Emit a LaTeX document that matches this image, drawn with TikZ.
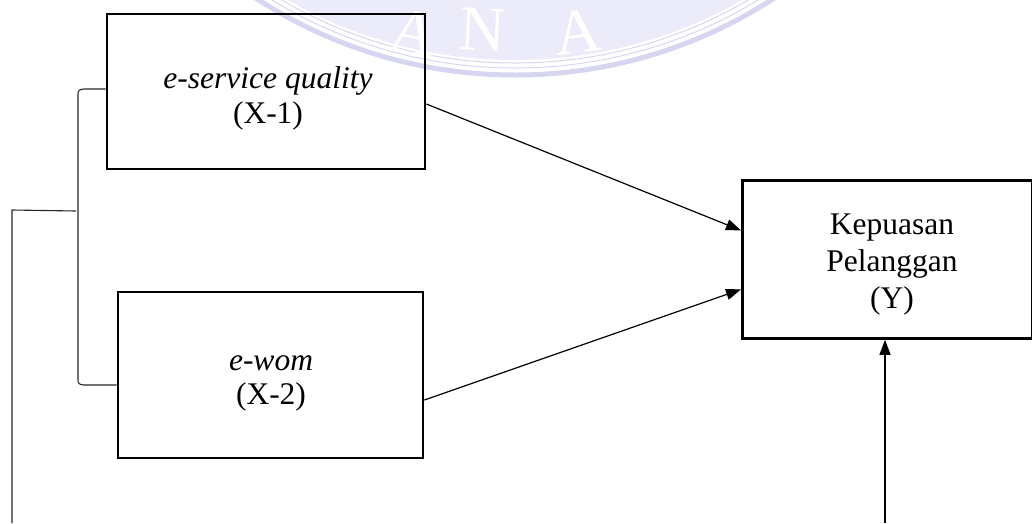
\documentclass[tikz,border=0pt]{standalone}
\usepackage{fontspec}
\setmainfont{Liberation Serif}
\usetikzlibrary{arrows.meta}
\definecolor{wmfill}{HTML}{EBEBF9}
\definecolor{wmline}{HTML}{D6D6F1}
\definecolor{wmletter}{HTML}{FFFFFF}
\tikzset{
  varbox/.style={draw=black, line width=2.8pt, rectangle, inner sep=0pt},
  txt/.style={anchor=base, inner sep=0pt, font=\fontsize{31.5}{37}\selectfont},
  conn/.style={draw=black, line width=1.2pt, -{Triangle[length=15pt,width=11pt]}},
  brk/.style={draw=black!85, line width=1.1pt},
  wmtxt/.style={anchor=base, inner sep=0pt, text=wmletter, font=\fontsize{64}{64}\selectfont}
}
\begin{document}
\begin{tikzpicture}[x=1pt,y=-1pt]
\useasboundingbox (0,0) rectangle (1032,523);
\clip (0,0) rectangle (1032,523);
% watermark
\fill[wmfill] (515,-400) circle[radius=460];
\draw[wmline, line width=1pt] (515,-400) circle[radius=463];
\draw[wmline, line width=1pt] (515,-400) circle[radius=468];
\draw[wmline, line width=5pt] (515,-400) circle[radius=475];
\node[wmtxt, rotate=-12] (wa) at (410,53) {A};
\node[wmtxt, rotate=-3] (wn) at (482,51) {N};
\node[wmtxt, rotate=7] (wb) at (580,53) {A};
% boxes
\node[varbox, minimum width=318pt, minimum height=155pt] (x1) at (266,91.5) {};
\node[varbox, minimum width=305pt, minimum height=166pt] (x2) at (270.5,375) {};
\node[varbox, minimum width=290pt, minimum height=158pt, anchor=north west] (y) at (741,179) {};
% texts
\node[txt] (x1a) at (268,88) {\textit{e-service quality}};
\node[txt] (x1b) at (268,123) {(X-1)};
\node[txt] (x2a) at (271,370) {\textit{e-wom}};
\node[txt] (x2b) at (271,404) {(X-2)};
\node[txt] (ya) at (892,234) {Kepuasan};
\node[txt] (yb) at (892,271) {Pelanggan};
\node[txt] (yc) at (892,308) {(Y)};
% connectors
\draw[conn] ([yshift=-12.5pt]x1.east) -- ([yshift=29pt]y.west);
\draw[conn] ([yshift=-25pt]x2.east) -- ([yshift=-30pt]y.west);
\coordinate (bt) at (885,523);
\draw[conn] (bt) -- (bt |- y.south);
% bracket
\coordinate (lft) at (12,210);
\coordinate (lbot) at (12,523);
\draw[brk] ([yshift=2.5pt]x1.west) -- (84,89) .. controls (79,89.5) and (78,90.5) .. (78,94) -- (78,380) .. controls (78,383.5) and (79,384.5) .. (84,385) -- ([yshift=-10pt]x2.west);
\draw[brk] (76,211) -- (lft) -- (lbot);
\end{tikzpicture}
\end{document}
